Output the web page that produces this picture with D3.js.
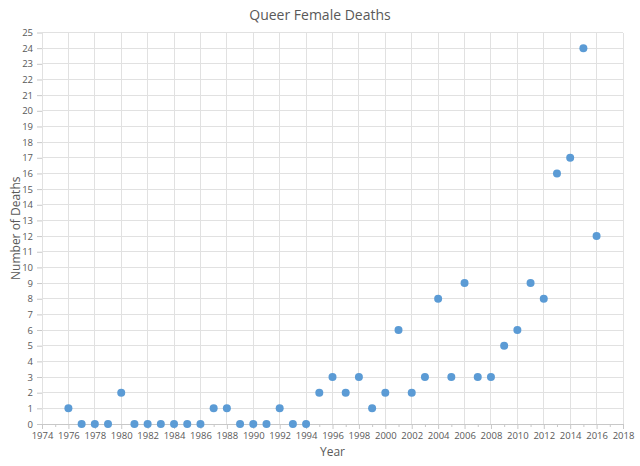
<!DOCTYPE html>
<html><head><meta charset="utf-8">
<script src="https://cdn.jsdelivr.net/npm/d3@7"></script>
<style>body{margin:0;background:#fff}svg{display:block}</style>
</head><body>
<script>
const years = [1976,1977,1978,1979,1980,1981,1982,1983,1984,1985,1986,1987,1988,1989,1990,1991,1992,1993,1994,1995,1996,1997,1998,1999,2000,2001,2002,2003,2004,2005,2006,2007,2008,2009,2010,2011,2012,2013,2014,2015,2016];
const deaths = [1,0,0,0,2,0,0,0,0,0,0,1,1,0,0,0,1,0,0,2,3,2,3,1,2,6,2,3,8,3,9,3,3,5,6,9,8,16,17,24,12];
const xTicks = d3.range(1974, 2019, 2);
const yTicks = d3.range(0, 26, 1);
const title = "Queer Female Deaths";
const xTitle = "Year";
const yTitle = "Number of Deaths";

const W = 640, H = 466;
const m = {left: 42, right: 17, top: 32.5, bottom: 42};
const font = "'Open Sans', 'Liberation Sans', sans-serif";
const svg = d3.select("body").append("svg").attr("width", W).attr("height", H);
const x = d3.scaleLinear().domain([1974, 2018]).range([m.left, W - m.right]);
const y = d3.scaleLinear().domain([0, 25]).range([H - m.bottom, m.top]);

// grid
svg.append("g").selectAll("line").data(yTicks.filter(d => d > 0)).join("line")
  .attr("x1", x(1974)).attr("x2", x(2018)).attr("y1", d => y(d)).attr("y2", d => y(d))
  .attr("stroke", "#e1e1e1").attr("stroke-width", 1).attr("shape-rendering", "crispEdges");
svg.append("g").selectAll("line").data(xTicks).join("line")
  .attr("x1", d => x(d)).attr("x2", d => x(d)).attr("y1", y(0)).attr("y2", y(25))
  .attr("stroke", "#e1e1e1").attr("stroke-width", 1).attr("shape-rendering", "crispEdges");

// x axis
const xa = svg.append("g").attr("transform", `translate(0,${y(0)})`)
  .call(d3.axisBottom(x).tickValues(xTicks).tickFormat(d3.format("d")).tickSize(5).tickPadding(3));
const xminor = svg.append("g").attr("transform", `translate(0,${y(0)})`)
  .call(d3.axisBottom(x).tickValues(d3.range(1975, 2018, 2)).tickFormat("").tickSize(3));
xminor.select(".domain").remove();
// y axis
const ya = svg.append("g").attr("transform", `translate(${x(1974)},0)`)
  .call(d3.axisLeft(y).tickValues(yTicks).tickFormat(d3.format("d")).tickSize(5).tickPadding(4));
ya.select(".domain").remove();
[xa, ya, xminor].forEach(g => {
  g.selectAll("line").attr("stroke", "#c8c8c8");
  g.selectAll(".domain").attr("stroke", "#c8c8c8");
  g.selectAll("text").attr("fill", "#595959").style("font-family", font).style("font-size", "9.5px");
});

// points
svg.append("g").selectAll("circle").data(years).join("circle")
  .attr("cx", d => x(d)).attr("cy", (d, i) => y(deaths[i])).attr("r", 4)
  .attr("fill", "#5b9bd5");

// titles
svg.append("text").attr("x", 320).attr("y", 20).attr("text-anchor", "middle")
  .attr("fill", "#595959").style("font-family", font).style("font-size", "14px").text(title);
svg.append("text").attr("x", (x(1974) + x(2018)) / 2).attr("y", 456).attr("text-anchor", "middle")
  .attr("fill", "#595959").style("font-family", font).style("font-size", "12px").text(xTitle);
svg.append("text").attr("transform", `translate(20,${(y(0) + y(25)) / 2}) rotate(-90)`).attr("text-anchor", "middle")
  .attr("fill", "#595959").style("font-family", font).style("font-size", "12px").text(yTitle);
</script>
</body></html>
